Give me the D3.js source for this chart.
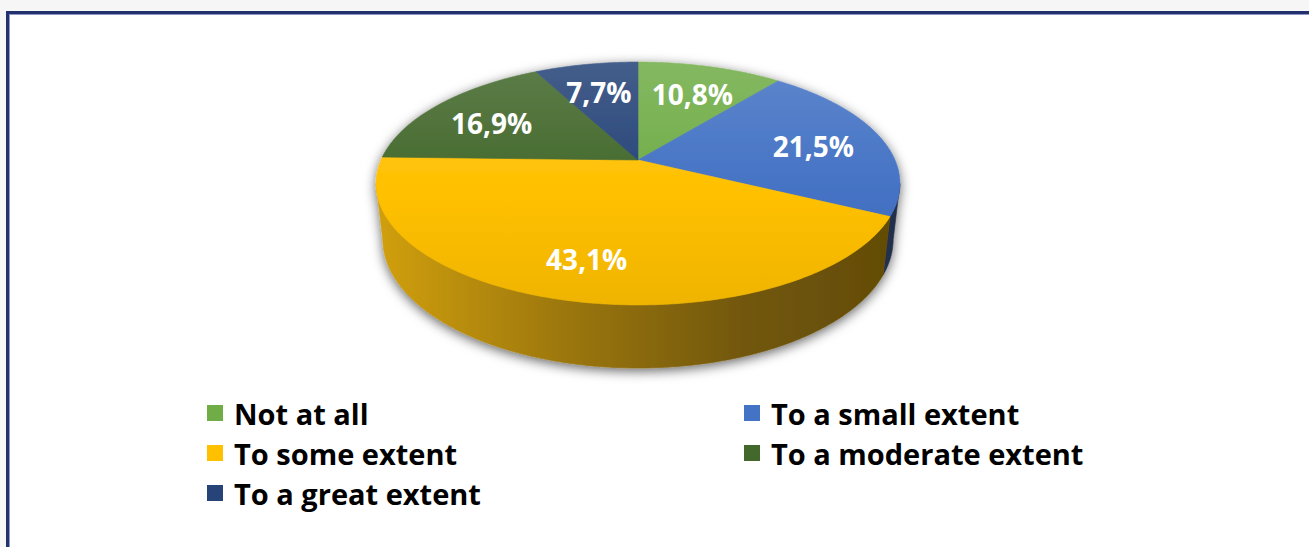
<!DOCTYPE html>
<html>
<head>
<meta charset="utf-8">
<script src="https://cdn.jsdelivr.net/npm/d3@7/dist/d3.min.js"></script>
<style>
html,body{margin:0;padding:0;background:#f6f6f6;}
svg{display:block;}
</style>
</head>
<body>
<svg id="chart" width="1309" height="547"></svg>
<script>
// ---- data ----
const categories = ["Not at all", "To a small extent", "To some extent", "To a moderate extent", "To a great extent"];
const values = [10.8, 21.5, 43.1, 16.9, 7.7];
const colors = ["#70ad47", "#4472c4", "#ffc000", "#43682b", "#264478"];

const W = 1309, H = 547;
const svg = d3.select("#chart");

// frame
svg.append("rect").attr("x", 0).attr("y", 0).attr("width", W).attr("height", H).attr("fill", "#f6f6f6");
svg.append("rect").attr("x", 7.5).attr("y", 12.5).attr("width", W + 20).attr("height", H + 20)
  .attr("fill", "#ffffff").attr("stroke", "#22306e").attr("stroke-width", 3);
svg.append("rect").attr("x", 9.5).attr("y", 14.5).attr("width", W + 20).attr("height", H + 20)
  .attr("fill", "none").attr("stroke", "#8d97c2").attr("stroke-width", 1);

// ---- 3D projection of pie ----
const sinA = 0.464, cosA = 0.886, D = 4.58, fx = 1177, fy = 1154, cx = 638, cy = 160, depthH = 0.2515;
function proj(thetaDeg, r, h) {
  const t = thetaDeg * Math.PI / 180;
  const X = r * Math.sin(t), Z = r * Math.cos(t), Y = -h;
  const yc = Z * sinA + Y * cosA;
  const dep = D + Z * cosA - Y * sinA;
  return [cx + fx * X / dep, cy - fy * yc / dep];
}
function samples(a, b) {
  const n = Math.max(2, Math.ceil(Math.abs(b - a) / 0.5));
  return d3.range(n + 1).map(i => a + (b - a) * i / n);
}

const pie = d3.pie().sort(null).value(d => d)(values);
const deg = x => x * 180 / Math.PI;
const line = d3.line();

const defs = svg.append("defs");
const topY = proj(0, 1, 0)[1], botY = proj(180, 1, 0)[1];
const leftX = proj(270, 1, 0)[0] - 6, rightX = proj(90, 1, 0)[0] + 6;

colors.forEach((c, i) => {
  const base = d3.color(c);
  const g = defs.append("linearGradient").attr("id", "top" + i)
    .attr("gradientUnits", "userSpaceOnUse").attr("x1", 0).attr("y1", topY).attr("x2", 0).attr("y2", botY);
  g.append("stop").attr("offset", 0).attr("stop-color", d3.interpolateRgb(c, "#ffffff")(0.14));
  g.append("stop").attr("offset", 0.55).attr("stop-color", c);
  g.append("stop").attr("offset", 1).attr("stop-color", base.darker(0.18).formatHex());
  const s = defs.append("linearGradient").attr("id", "side" + i)
    .attr("gradientUnits", "userSpaceOnUse").attr("x1", leftX).attr("y1", 0).attr("x2", rightX).attr("y2", 0);
  s.append("stop").attr("offset", 0).attr("stop-color", d3.interpolateRgb(base.darker(0.45), "#9a8a60")(0.12));
  s.append("stop").attr("offset", 0.35).attr("stop-color", d3.interpolateRgb(base.darker(1.3), "#807050")(0.12));
  s.append("stop").attr("offset", 0.7).attr("stop-color", d3.interpolateRgb(base.darker(2.2), "#605040")(0.12));
  s.append("stop").attr("offset", 1).attr("stop-color", d3.interpolateRgb(base.darker(2.6), "#504030")(0.12));
});

const f = defs.append("filter").attr("id", "shadow").attr("x", "-10%").attr("y", "-10%").attr("width", "120%").attr("height", "130%");
f.append("feDropShadow").attr("dx", 0).attr("dy", 3).attr("stdDeviation", 6).attr("flood-color", "#000").attr("flood-opacity", 0.6);

const pieG = svg.append("g").attr("filter", "url(#shadow)");

// visible side range (silhouette)
const sil = deg(Math.acos(-cosA / D));
const sideG = pieG.append("g");
pie.forEach((p, i) => {
  const a = Math.max(deg(p.startAngle), sil), b = Math.min(deg(p.endAngle), 360 - sil);
  if (b <= a) return;
  const ts = samples(a, b);
  const pts = ts.map(t => proj(t, 1, 0)).concat(ts.slice().reverse().map(t => proj(t, 1, depthH)));
  sideG.append("path").attr("d", line(pts) + "Z").attr("fill", `url(#side${i})`)
    .attr("stroke", `url(#side${i})`).attr("stroke-width", 0.6);
});

const topG = pieG.append("g");
pie.forEach((p, i) => {
  const ts = samples(deg(p.startAngle), deg(p.endAngle));
  const pts = [proj(0, 0, 0)].concat(ts.map(t => proj(t, 1, 0)));
  topG.append("path").attr("d", line(pts) + "Z").attr("fill", `url(#top${i})`)
    .attr("stroke", `url(#top${i})`).attr("stroke-width", 0.6);
});

// labels
const fmt = v => d3.format(".1f")(v).replace(".", ",") + "%";
const labelR = 0.72;
svg.append("g").selectAll("text").data(pie).join("text")
  .attr("x", d => proj(deg((d.startAngle + d.endAngle) / 2), labelR, 0)[0])
  .attr("y", d => proj(deg((d.startAngle + d.endAngle) / 2), labelR, 0)[1] + 4)
  .attr("text-anchor", "middle").attr("dominant-baseline", "central")
  .attr("font-family", "'Open Sans', sans-serif").attr("font-weight", 700).attr("font-size", 28)
  .attr("fill", "#ffffff")
  .text(d => fmt(d.data));

// legend
const legX = [207, 744], legY0 = 413, legDY = 40;
const leg = svg.append("g").selectAll("g").data(categories).join("g")
  .attr("transform", (d, i) => `translate(${legX[i % 2]},${legY0 + Math.floor(i / 2) * legDY})`);
leg.append("rect").attr("x", 0).attr("y", -8).attr("width", 16).attr("height", 16)
  .attr("fill", (d, i) => colors[i]);
leg.append("text").attr("x", 27).attr("y", 0).attr("dominant-baseline", "central")
  .attr("font-family", "'Open Sans', sans-serif").attr("font-weight", 700).attr("font-size", 29)
  .attr("fill", "#000").text(d => d);
</script>
</body>
</html>
